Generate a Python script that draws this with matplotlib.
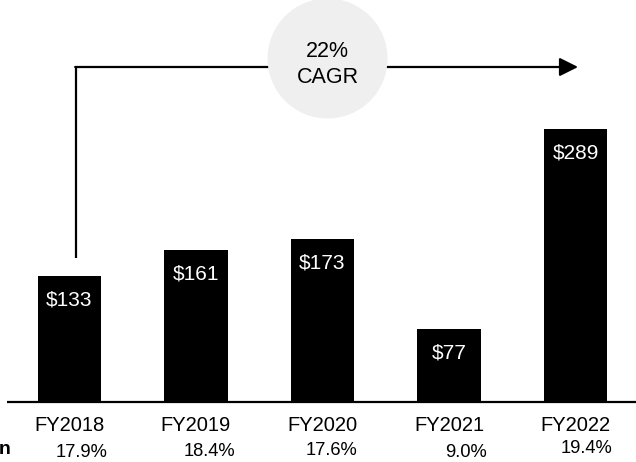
import numpy as np
import matplotlib.pyplot as plt
from matplotlib.patches import Ellipse

years = ["FY2018", "FY2019", "FY2020", "FY2021", "FY2022"]
values = [133, 161, 173, 77, 289]
margins = ["17.9%", "18.4%", "17.6%", "9.0%", "19.4%"]

# small nudges of the margin labels as in the original layout
m_dx = [0.095, 0.103, 0.075, 0.138, 0.083]
m_y = [-53.4, -52.4, -51.3, -53.4, -49.2]

plt.rcParams['font.family'] = ['Liberation Sans', 'DejaVu Sans']

fig = plt.figure(figsize=(6.36, 4.62), dpi=100)
ax = fig.add_axes([0, 0, 1, 1])
ax.set_xlim(-0.549, 4.478)
ax.set_ylim(-63.5, 425.4)
ax.axis('off')

x = np.arange(len(years))
ax.bar(x, values, width=0.5, color='black', zorder=2)
ax.plot([-0.494, 4.478], [0, 0], color='black', lw=1.6, zorder=3, solid_capstyle='butt')

for i in range(len(years)):
    ax.text(x[i], values[i] - 25.4, "$" + str(values[i]), color='white',
            ha='center', va='center', fontsize=15)
    ax.text(x[i], -25.0, years[i], ha='center', va='center', fontsize=14.5)
    ax.text(x[i] + m_dx[i], m_y[i], margins[i], ha='center', va='center', fontsize=13.2)

ax.text(-0.46, -50.8, "Margin", ha='right', va='center', fontsize=14, fontweight='bold')

# CAGR arrow
ax.plot([0.051, 0.051], [152, 354.5], color='black', lw=1.6, zorder=1, solid_capstyle='butt')
ax.annotate("", xy=(4.02, 354.5), xytext=(0.045, 354.5),
            arrowprops=dict(arrowstyle='-|>,head_length=0.4,head_width=0.2',
                            mutation_scale=28, color='black', lw=1.6,
                            shrinkA=0, shrinkB=0), zorder=1)
ax.add_patch(Ellipse((2.04, 363.5), 2 * 60 / 126.5, 2 * 60 / 0.945,
                     facecolor='#efefef', edgecolor='none', zorder=4))
ax.text(2.04, 371, "22%", ha='center', va='center', fontsize=15.5, zorder=5)
ax.text(2.04, 343.5, "CAGR", ha='center', va='center', fontsize=15.5, zorder=5)

plt.savefig("out.png", dpi=100)
